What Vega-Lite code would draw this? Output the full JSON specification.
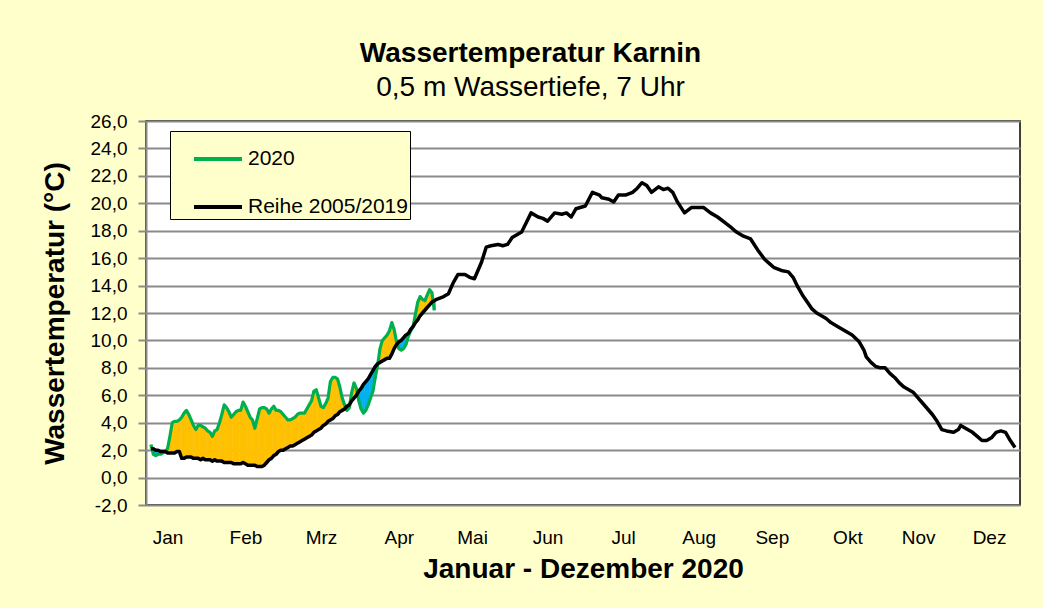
{
  "$schema": "https://vega.github.io/schema/vega-lite/v6.json",
  "width": 874,
  "height": 384,
  "autosize": {"type": "none"},
  "padding": {"left": 146, "top": 121, "right": 23, "bottom": 103},
  "background": "#FFFFCC",
  "title": {
    "text": "Wassertemperatur Karnin",
    "subtitle": "0,5 m Wassertiefe, 7 Uhr",
    "font": "Liberation Sans",
    "subtitleFont": "Liberation Sans",
    "fontSize": 28,
    "fontWeight": "bold",
    "subtitleFontSize": 28,
    "color": "black",
    "subtitleColor": "black",
    "anchor": "middle",
    "frame": "bounds",
    "offset": 10,
    "subtitlePadding": 6
  },
  "data": {
    "values": [
      {"d": 0, "t2020": 2.4, "reihe": 2.1},
      {"d": 1, "t2020": 1.7, "reihe": 2.1},
      {"d": 2, "t2020": 1.6, "reihe": 2.0},
      {"d": 3, "t2020": 1.7, "reihe": 2.0},
      {"d": 4, "t2020": 1.7, "reihe": 1.9},
      {"d": 5, "t2020": 1.8, "reihe": 1.9},
      {"d": 6, "t2020": 1.9, "reihe": 1.9},
      {"d": 7, "t2020": 2.1, "reihe": 1.8},
      {"d": 8, "t2020": 3.0, "reihe": 1.8},
      {"d": 9, "t2020": 4.0, "reihe": 1.8},
      {"d": 10, "t2020": 4.1, "reihe": 1.8},
      {"d": 11, "t2020": 4.1, "reihe": 1.9},
      {"d": 12, "t2020": 4.2, "reihe": 1.9},
      {"d": 13, "t2020": 4.4, "reihe": 1.4},
      {"d": 14, "t2020": 4.7, "reihe": 1.4},
      {"d": 15, "t2020": 4.9, "reihe": 1.5},
      {"d": 16, "t2020": 4.6, "reihe": 1.5},
      {"d": 17, "t2020": 4.2, "reihe": 1.5},
      {"d": 18, "t2020": 3.8, "reihe": 1.4},
      {"d": 19, "t2020": 3.5, "reihe": 1.4},
      {"d": 20, "t2020": 3.8, "reihe": 1.4},
      {"d": 21, "t2020": 3.8, "reihe": 1.3},
      {"d": 22, "t2020": 3.7, "reihe": 1.4},
      {"d": 23, "t2020": 3.6, "reihe": 1.3},
      {"d": 24, "t2020": 3.4, "reihe": 1.3},
      {"d": 25, "t2020": 3.3, "reihe": 1.3},
      {"d": 26, "t2020": 3.0, "reihe": 1.2},
      {"d": 27, "t2020": 3.4, "reihe": 1.3},
      {"d": 28, "t2020": 3.5, "reihe": 1.2},
      {"d": 29, "t2020": 4.0, "reihe": 1.2},
      {"d": 30, "t2020": 4.6, "reihe": 1.2},
      {"d": 31, "t2020": 5.3, "reihe": 1.1},
      {"d": 32, "t2020": 5.1, "reihe": 1.1},
      {"d": 33, "t2020": 4.8, "reihe": 1.1},
      {"d": 34, "t2020": 4.4, "reihe": 1.1},
      {"d": 35, "t2020": 4.6, "reihe": 1.0},
      {"d": 36, "t2020": 4.8, "reihe": 1.0},
      {"d": 37, "t2020": 4.9, "reihe": 1.0},
      {"d": 38, "t2020": 4.9, "reihe": 1.0},
      {"d": 39, "t2020": 5.5, "reihe": 1.1},
      {"d": 40, "t2020": 5.2, "reihe": 1.0},
      {"d": 41, "t2020": 4.8, "reihe": 0.9},
      {"d": 42, "t2020": 4.4, "reihe": 0.9},
      {"d": 43, "t2020": 4.2, "reihe": 0.9},
      {"d": 44, "t2020": 3.6, "reihe": 0.9},
      {"d": 45, "t2020": 4.3, "reihe": 0.8},
      {"d": 46, "t2020": 5.0, "reihe": 0.8},
      {"d": 47, "t2020": 5.1, "reihe": 0.8},
      {"d": 48, "t2020": 5.1, "reihe": 0.9},
      {"d": 49, "t2020": 5.0, "reihe": 1.1},
      {"d": 50, "t2020": 4.7, "reihe": 1.3},
      {"d": 51, "t2020": 5.0, "reihe": 1.4},
      {"d": 52, "t2020": 5.2, "reihe": 1.6},
      {"d": 53, "t2020": 4.9, "reihe": 1.7},
      {"d": 54, "t2020": 4.9, "reihe": 1.9},
      {"d": 55, "t2020": 4.8, "reihe": 2.0},
      {"d": 56, "t2020": 4.6, "reihe": 2.0},
      {"d": 57, "t2020": 4.4, "reihe": 2.1},
      {"d": 58, "t2020": 4.2, "reihe": 2.2},
      {"d": 59, "t2020": 4.2, "reihe": 2.3},
      {"d": 60, "t2020": 4.3, "reihe": 2.3},
      {"d": 61, "t2020": 4.4, "reihe": 2.4},
      {"d": 62, "t2020": 4.6, "reihe": 2.5},
      {"d": 63, "t2020": 4.7, "reihe": 2.6},
      {"d": 64, "t2020": 4.7, "reihe": 2.7},
      {"d": 65, "t2020": 4.7, "reihe": 2.8},
      {"d": 66, "t2020": 5.0, "reihe": 2.9},
      {"d": 67, "t2020": 5.3, "reihe": 3.0},
      {"d": 68, "t2020": 5.6, "reihe": 3.1},
      {"d": 69, "t2020": 6.3, "reihe": 3.3},
      {"d": 70, "t2020": 6.4, "reihe": 3.4},
      {"d": 71, "t2020": 5.8, "reihe": 3.5},
      {"d": 72, "t2020": 5.2, "reihe": 3.6},
      {"d": 73, "t2020": 5.1, "reihe": 3.8},
      {"d": 74, "t2020": 5.4, "reihe": 3.9},
      {"d": 75, "t2020": 5.8, "reihe": 4.1},
      {"d": 76, "t2020": 7.0, "reihe": 4.2},
      {"d": 77, "t2020": 7.3, "reihe": 4.3},
      {"d": 78, "t2020": 7.3, "reihe": 4.5},
      {"d": 79, "t2020": 7.2, "reihe": 4.6},
      {"d": 80, "t2020": 6.6, "reihe": 4.8},
      {"d": 81, "t2020": 5.8, "reihe": 4.9},
      {"d": 82, "t2020": 5.3, "reihe": 5.0},
      {"d": 83, "t2020": 4.9, "reihe": 5.2},
      {"d": 84, "t2020": 5.1, "reihe": 5.3},
      {"d": 85, "t2020": 6.2, "reihe": 5.6},
      {"d": 86, "t2020": 6.9, "reihe": 5.8},
      {"d": 87, "t2020": 6.5, "reihe": 6.0},
      {"d": 88, "t2020": 5.6, "reihe": 6.3},
      {"d": 89, "t2020": 5.0, "reihe": 6.5},
      {"d": 90, "t2020": 4.7, "reihe": 6.8},
      {"d": 91, "t2020": 4.9, "reihe": 7.0},
      {"d": 92, "t2020": 5.3, "reihe": 7.2},
      {"d": 93, "t2020": 5.8, "reihe": 7.5},
      {"d": 94, "t2020": 6.3, "reihe": 7.8},
      {"d": 95, "t2020": 7.3, "reihe": 8.1},
      {"d": 96, "t2020": 8.2, "reihe": 8.3},
      {"d": 97, "t2020": 9.4, "reihe": 8.4},
      {"d": 98, "t2020": 10.0, "reihe": 8.5},
      {"d": 99, "t2020": 10.2, "reihe": 8.6},
      {"d": 100, "t2020": 10.4, "reihe": 8.7},
      {"d": 101, "t2020": 10.7, "reihe": 8.7},
      {"d": 102, "t2020": 11.3, "reihe": 9.0},
      {"d": 103, "t2020": 10.8, "reihe": 9.4},
      {"d": 104, "t2020": 9.9, "reihe": 9.7},
      {"d": 105, "t2020": 9.4, "reihe": 9.9},
      {"d": 106, "t2020": 9.3, "reihe": 10.0},
      {"d": 107, "t2020": 9.4, "reihe": 10.2},
      {"d": 108, "t2020": 9.7, "reihe": 10.4},
      {"d": 109, "t2020": 10.3, "reihe": 10.5},
      {"d": 110, "t2020": 10.7, "reihe": 10.8},
      {"d": 111, "t2020": 11.0, "reihe": 11.0},
      {"d": 112, "t2020": 11.9, "reihe": 11.3},
      {"d": 113, "t2020": 12.8, "reihe": 11.5},
      {"d": 114, "t2020": 13.2, "reihe": 11.8},
      {"d": 115, "t2020": 13.0, "reihe": 12.0},
      {"d": 116, "t2020": 12.9, "reihe": 12.2},
      {"d": 117, "t2020": 13.3, "reihe": 12.4},
      {"d": 118, "t2020": 13.7, "reihe": 12.6},
      {"d": 119, "t2020": 13.5, "reihe": 12.8},
      {"d": 120, "t2020": 12.2, "reihe": 12.9},
      {"d": 121, "reihe": 13.0},
      {"d": 124, "reihe": 13.2},
      {"d": 126, "reihe": 13.4},
      {"d": 128, "reihe": 14.2},
      {"d": 130, "reihe": 14.8},
      {"d": 133, "reihe": 14.8},
      {"d": 135, "reihe": 14.6},
      {"d": 137, "reihe": 14.5},
      {"d": 140, "reihe": 15.7},
      {"d": 142, "reihe": 16.8},
      {"d": 144, "reihe": 16.9},
      {"d": 147, "reihe": 17.0},
      {"d": 149, "reihe": 16.9},
      {"d": 151, "reihe": 17.0},
      {"d": 153, "reihe": 17.5},
      {"d": 155, "reihe": 17.7},
      {"d": 157, "reihe": 17.9},
      {"d": 159, "reihe": 18.6},
      {"d": 161, "reihe": 19.3},
      {"d": 164, "reihe": 19.0},
      {"d": 166, "reihe": 18.9},
      {"d": 168, "reihe": 18.7},
      {"d": 171, "reihe": 19.3},
      {"d": 174, "reihe": 19.2},
      {"d": 176, "reihe": 19.3},
      {"d": 178, "reihe": 19.0},
      {"d": 180, "reihe": 19.6},
      {"d": 184, "reihe": 19.8},
      {"d": 187, "reihe": 20.8},
      {"d": 190, "reihe": 20.6},
      {"d": 191, "reihe": 20.4},
      {"d": 194, "reihe": 20.3},
      {"d": 196, "reihe": 20.1},
      {"d": 198, "reihe": 20.6},
      {"d": 201, "reihe": 20.6},
      {"d": 204, "reihe": 20.8},
      {"d": 206, "reihe": 21.1},
      {"d": 208, "reihe": 21.5},
      {"d": 210, "reihe": 21.3},
      {"d": 212, "reihe": 20.8},
      {"d": 215, "reihe": 21.2},
      {"d": 217, "reihe": 21.0},
      {"d": 219, "reihe": 21.1},
      {"d": 221, "reihe": 20.8},
      {"d": 223, "reihe": 20.1},
      {"d": 226, "reihe": 19.3},
      {"d": 229, "reihe": 19.7},
      {"d": 232, "reihe": 19.7},
      {"d": 234, "reihe": 19.7},
      {"d": 237, "reihe": 19.3},
      {"d": 240, "reihe": 19.0},
      {"d": 243, "reihe": 18.6},
      {"d": 246, "reihe": 18.2},
      {"d": 248, "reihe": 17.9},
      {"d": 251, "reihe": 17.6},
      {"d": 254, "reihe": 17.4},
      {"d": 257, "reihe": 16.6},
      {"d": 260, "reihe": 15.9},
      {"d": 262, "reihe": 15.6},
      {"d": 264, "reihe": 15.3},
      {"d": 267, "reihe": 15.1},
      {"d": 270, "reihe": 15.0},
      {"d": 272, "reihe": 14.6},
      {"d": 274, "reihe": 13.9},
      {"d": 276, "reihe": 13.3},
      {"d": 278, "reihe": 12.8},
      {"d": 280, "reihe": 12.3},
      {"d": 282, "reihe": 12.0},
      {"d": 284, "reihe": 11.8},
      {"d": 286, "reihe": 11.6},
      {"d": 288, "reihe": 11.3},
      {"d": 291, "reihe": 11.0},
      {"d": 295, "reihe": 10.6},
      {"d": 297, "reihe": 10.4},
      {"d": 300, "reihe": 9.9},
      {"d": 302, "reihe": 9.3},
      {"d": 303, "reihe": 8.8},
      {"d": 305, "reihe": 8.4},
      {"d": 307, "reihe": 8.1},
      {"d": 309, "reihe": 8.0},
      {"d": 311, "reihe": 8.0},
      {"d": 313, "reihe": 7.6},
      {"d": 315, "reihe": 7.3},
      {"d": 317, "reihe": 6.9},
      {"d": 319, "reihe": 6.6},
      {"d": 321, "reihe": 6.4},
      {"d": 323, "reihe": 6.2},
      {"d": 325, "reihe": 5.8},
      {"d": 327, "reihe": 5.4},
      {"d": 329, "reihe": 5.0},
      {"d": 331, "reihe": 4.6},
      {"d": 333, "reihe": 4.1},
      {"d": 335, "reihe": 3.5},
      {"d": 337, "reihe": 3.4},
      {"d": 340, "reihe": 3.3},
      {"d": 342, "reihe": 3.5},
      {"d": 343, "reihe": 3.8},
      {"d": 345, "reihe": 3.6},
      {"d": 348, "reihe": 3.3},
      {"d": 350, "reihe": 3.0},
      {"d": 352, "reihe": 2.7},
      {"d": 354, "reihe": 2.7},
      {"d": 356, "reihe": 2.9},
      {"d": 358, "reihe": 3.3},
      {"d": 360, "reihe": 3.4},
      {"d": 362, "reihe": 3.3},
      {"d": 364, "reihe": 2.7},
      {"d": 366, "reihe": 2.2}
    ]
  },
  "encoding": {
    "x": {
      "field": "d",
      "type": "quantitative",
      "scale": {"domain": [0, 366], "nice": false, "zero": false},
      "axis": {
        "title": "Januar - Dezember 2020",
        "values": [7, 40, 72, 105, 136, 168, 200, 232, 263, 295, 325, 355],
        "labelExpr": "['Jan','Feb','Mrz','Apr','Mai','Jun','Jul','Aug','Sep','Okt','Nov','Dez'][indexof([7,40,72,105,136,168,200,232,263,295,325,355], datum.value)]",
        "grid": false,
        "ticks": false,
        "tickSize": 0,
        "domain": false,
        "labelFontSize": 19,
        "labelPadding": 23,
        "titleFontSize": 28,
        "titleFontWeight": "bold",
        "titlePadding": 8
      }
    }
  },
  "layer": [
    {
      "transform": [{"filter": "isValid(datum.t2020)"}],
      "mark": {"type": "bar", "width": 2.8},
      "encoding": {
        "y": {
          "field": "t2020",
          "type": "quantitative",
          "title": "Wassertemperatur (°C)",
          "scale": {"domain": [-2, 26], "nice": false, "zero": false}
        },
        "y2": {"field": "reihe"},
        "color": {
          "condition": {"test": "datum.t2020 > datum.reihe", "value": "#FFC000"},
          "value": "#00B0F0"
        }
      }
    },
    {
      "transform": [{"filter": "isValid(datum.t2020)"}],
      "mark": {"type": "line", "strokeWidth": 3.2, "strokeJoin": "round"},
      "encoding": {
        "y": {"field": "t2020", "type": "quantitative", "title": "Wassertemperatur (°C)"},
        "color": {"datum": "2020"}
      }
    },
    {
      "mark": {"type": "line", "strokeWidth": 3.5, "strokeJoin": "round"},
      "encoding": {
        "y": {"field": "reihe", "type": "quantitative", "title": "Wassertemperatur (°C)"},
        "color": {"datum": "Reihe 2005/2019"}
      }
    }
  ],
  "resolve": {"scale": {"color": "shared"}},
  "config": {
    "font": "Liberation Sans",
    "view": {"fill": "white", "stroke": "black", "strokeWidth": 1.5},
    "axis": {
      "labelFont": "Liberation Sans",
      "titleFont": "Liberation Sans",
      "labelColor": "black",
      "titleColor": "black"
    },
    "axisY": {
      "values": [-2, 0, 2, 4, 6, 8, 10, 12, 14, 16, 18, 20, 22, 24, 26],
      "labelExpr": "(datum.value < 0 ? '-' : '') + replace(format(abs(datum.value), '.1f'), '.', ',')",
      "gridColor": "#8A8A8A",
      "gridWidth": 2,
      "domainColor": "#8A8A8A",
      "domainWidth": 2,
      "tickColor": "#8A8A8A",
      "tickWidth": 2,
      "tickSize": 8,
      "labelFontSize": 19,
      "labelPadding": 11,
      "titleFontSize": 28,
      "titleFontWeight": "bold",
      "titlePadding": 21
    },
    "range": {"category": ["#00B050", "#000000"]},
    "legend": {
      "title": "\u00a0",
      "titleOrient": "right",
      "titlePadding": 20,
      "titleFontSize": 20,
      "orient": "none",
      "legendX": 24,
      "legendY": 10,
      "direction": "vertical",
      "fillColor": "#FFFFCC",
      "strokeColor": "black",
      "padding": 2,
      "symbolType": "stroke",
      "symbolSize": 2304,
      "symbolStrokeWidth": 4,
      "symbolOffset": 20,
      "labelFont": "Liberation Sans",
      "labelFontSize": 21,
      "labelColor": "black",
      "labelOffset": 4,
      "rowPadding": 12
    }
  }
}
